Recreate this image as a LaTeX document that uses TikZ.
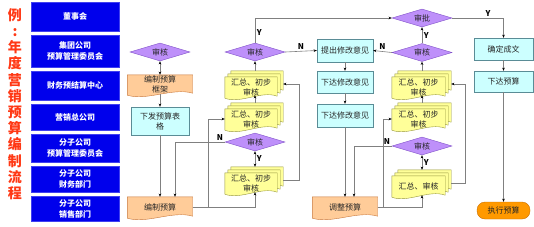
\documentclass[tikz,border=0pt]{standalone}
\usepackage{fontspec}
\setmainfont{Noto Sans CJK SC}
\usepackage{tikz}
\usetikzlibrary{arrows.meta,shapes.geometric,calc,backgrounds}
\definecolor{laneblue}{RGB}{0,0,236}
\definecolor{titlered}{RGB}{255,56,20}
\definecolor{chkfill}{RGB}{190,144,250}
\definecolor{chkline}{RGB}{128,80,200}
\definecolor{cyanfill}{RGB}{204,255,255}
\definecolor{cyanline}{RGB}{90,140,150}
\definecolor{orfill}{RGB}{255,204,153}
\definecolor{orline}{RGB}{200,120,60}
\definecolor{yefill}{RGB}{255,255,153}
\definecolor{yeline}{RGB}{150,150,60}
\definecolor{execfill}{RGB}{255,153,0}
\definecolor{execline}{RGB}{200,110,0}
\definecolor{linegray}{RGB}{128,128,128}
\newcommand{\flowfont}{\fontsize{8}{10}\selectfont}
% wavy-bottom outline round a node, shifted by (#3,#4)
\newcommand{\docpath}[4]{%
  \begin{pgfonlayer}{background}
  \draw[#2] ($(#1.north west)+(#3,#4)$) -- ($(#1.north east)+(#3,#4)$)
    -- ($(#1.south east)+(#3,#4-1)$)
    .. controls ($(#1.south east)!0.3!(#1.south west)+(#3,#4-7)$)
    and ($(#1.south east)!0.7!(#1.south west)+(#3,#4+7)$)
    .. ($(#1.south west)+(#3,#4+1)$) -- cycle;
  \end{pgfonlayer}}
\newcommand{\stackdoc}[1]{%
  \docpath{#1}{yedoc}{6}{-6}\docpath{#1}{yedoc}{3}{-3}\docpath{#1}{yedoc}{0}{0}}
\tikzset{
  lane/.style     = {fill=laneblue, draw=laneblue!75!white, text=white,
                     font=\bfseries\fontsize{8}{11}\selectfont, align=center,
                     minimum width=88pt, inner sep=0pt},
  ttl/.style      = {text=titlered, font=\bfseries\fontsize{14}{16.2}\selectfont,
                     align=center, inner sep=0pt},
  check/.style    = {diamond, aspect=3.3, fill=chkfill, draw=chkline, thin,
                     minimum width=60pt, minimum height=18pt, inner sep=0pt,
                     font=\flowfont, text=black!85},
  flowbox/.style  = {fill=cyanfill, draw=cyanline, thin, font=\flowfont,
                     text=black!85, align=center, inner sep=0pt},
  docnode/.style  = {font=\flowfont, text=black!85, align=center, inner sep=0pt},
  ordoc/.style    = {fill=orfill, draw=orline, thin},
  yedoc/.style    = {fill=yefill, draw=yeline, thin},
  execbox/.style  = {fill=execfill, draw=execline, thin, rounded corners=8pt,
                     font=\flowfont, text=black!85, inner sep=0pt},
  arr/.style      = {-{Stealth[length=3.2pt,width=2.6pt,color=black]},
                     draw=linegray, line width=0.6pt},
  both/.style     = {{Stealth[length=3.2pt,width=2.6pt,color=black]}-{Stealth[length=3.2pt,width=2.6pt,color=black]},
                     draw=linegray, line width=0.6pt},
  yn/.style       = {font=\bfseries\fontsize{8}{8}\selectfont, inner sep=1.5pt}
}
\begin{document}
\begin{tikzpicture}[x=1pt,y=-1pt]
  \useasboundingbox (0,0) rectangle (534,226);
  % title and lanes
  \node[ttl] (title) at (15,104) {例\\:\\年\\度\\营\\销\\预\\算\\编\\制\\流\\程};
  \node[lane, minimum height=29pt] (l1) at (75,16.5)  {董事会};
  \node[lane, minimum height=32pt] (l2) at (75,51)    {集团公司\\预算管理委员会};
  \node[lane, minimum height=29pt] (l3) at (75,85.5)  {财务预结算中心};
  \node[lane, minimum height=26pt] (l4) at (75,117)   {营销总公司};
  \node[lane, minimum height=28pt] (l5) at (75,148)   {分子公司\\预算管理委员会};
  \node[lane, minimum height=26pt] (l6) at (75,179)   {分子公司\\财务部门};
  \node[lane, minimum height=25pt] (l7) at (75,208.5) {分子公司\\销售部门};

  % column A
  \node[check] (dA1) at (160,52) {审核};
  \node[docnode, minimum width=65pt, minimum height=19pt] (docA1) at (160,84.5) {编制预算\\框架};
  \docpath{docA1}{ordoc}{0}{0}
  \node[flowbox, minimum width=58pt, minimum height=28pt] (boxA) at (160,121) {下发预算表\\格};
  \node[docnode, minimum width=65pt, minimum height=20pt] (docA2) at (160,207) {编制预算};
  \docpath{docA2}{ordoc}{0}{0}

  % column B
  \node[check] (dB1) at (255,52) {审核};
  \node[docnode, minimum width=52pt, minimum height=20pt] (stB1) at (251,87) {汇总、初步\\审核};
  \stackdoc{stB1}
  \node[docnode, minimum width=52pt, minimum height=20pt] (stB2) at (251,119) {汇总、初步\\审核};
  \stackdoc{stB2}
  \node[check] (dB2) at (255,142) {审核};
  \node[docnode, minimum width=52pt, minimum height=20pt] (stB3) at (251,183) {汇总、初步\\审核};
  \stackdoc{stB3}

  % column C
  \node[flowbox, minimum width=56pt, minimum height=23pt] (cC1) at (345,50.5)  {提出修改意见};
  \node[flowbox, minimum width=56pt, minimum height=22pt] (cC2) at (345,82)    {下达修改意见};
  \node[flowbox, minimum width=56pt, minimum height=23pt] (cC3) at (345,115.5) {下达修改意见};
  \node[docnode, minimum width=65pt, minimum height=20pt] (docC) at (345,207) {调整预算};
  \docpath{docC}{ordoc}{0}{0}

  % column D
  \node[check] (dD0) at (422,18) {审批};
  \node[check] (dD1) at (422,52.5) {审核};
  \node[docnode, minimum width=53pt, minimum height=20pt] (stD1) at (418.5,87) {汇总、初步\\审核};
  \stackdoc{stD1}
  \node[docnode, minimum width=53pt, minimum height=20pt] (stD2) at (418.5,119) {汇总、初步\\审核};
  \stackdoc{stD2}
  \node[check] (dD2) at (422,146) {审核};
  \node[docnode, minimum width=53pt, minimum height=20pt] (stD3) at (418.5,186) {汇总、审核};
  \stackdoc{stD3}

  % column E
  \node[flowbox, minimum width=59pt, minimum height=22pt] (cE1) at (503.5,49)   {确定成文};
  \node[flowbox, minimum width=59pt, minimum height=21pt] (cE2) at (503.5,81.5) {下达预算};
  \node[execbox, minimum width=53pt, minimum height=17pt] (exec) at (503.5,210.5) {执行预算};

  % connectors A
  \draw[both] (dA1.south) -- (docA1.north);
  \draw[arr] (docA1.south) -- (boxA.north);
  \draw[arr] (boxA.south) -- (docA2.north);
  \draw[arr] (dB2.west) node[yn, above left] (nB2) {N} -| ($(docA2.north)+(15,0)$);
  \draw[arr] (docA2.east) -- ++(16,0) |- (stB2.west);
  \draw[arr] (docA2.east) -| ($(dB2.south |- stB3.south)+(0,-1)$);

  % connectors B
  \draw[both] (dB2.south) -- node[yn, right] (yB2) {Y} ($(dB2.south |- stB3.north)+(0,-6)$);
  \draw[arr] ($(stB3.east)+(6,-3)$) -- ++(16,0) |- ($(stB1.east)+(6,-3)$);
  \draw[arr] ($(dB1.south |- stB2.north)+(0,-6)$) -- ($(dB1.south |- stB1.south)+(0,-2)$);
  \draw[arr] ($(dB1.south |- stB1.north)+(0,-6)$) -- (dB1.south);
  \draw[arr] (dB1.north) |- node[yn, right, pos=0.2] (yB1) {Y} (dD0.west);
  \draw[arr] (dB1.east) -- node[yn, above] (nB1) {N} (cC1.west);

  % connectors C
  \draw[arr] (dD1.west) -- node[yn, above] (nD1) {N} (cC1.east);
  \draw[arr] (cC1.south) -- (cC2.north);
  \draw[arr] (cC2.south) -- (cC3.north);
  \draw[arr] (cC3.south) -- (docC.north);
  \draw[arr] (dD2.west) node[yn, above left] (nD2) {N} -| ($(docC.north)+(9,0)$);
  \draw[arr] (docC.east) -- ++(6,0) |- (stD2.west);
  \draw[arr] (docC.east) -| ($(dD2.south |- stD3.south)+(0,-1)$);

  % connectors D
  \draw[both] (dD2.south) -- node[yn, right] (yD2) {Y} ($(dD2.south |- stD3.north)+(0,-6)$);
  \draw[arr] ($(stD3.east)+(6,-3)$) -- ++(14,0) |- ($(stD1.east)+(6,-3)$);
  \draw[arr] ($(dD1.south |- stD2.north)+(0,-6)$) -- ($(dD1.south |- stD1.south)+(0,-2)$);
  \draw[arr] ($(dD1.south |- stD1.north)+(0,-6)$) -- (dD1.south);
  \draw[arr] (dD1.north) -- node[yn, right] (yD1) {Y} (dD0.south);
  \draw[arr] (dD0.east) -| node[yn, above, pos=0.35] (yD0) {Y} (cE1.north);

  % connectors E
  \draw[arr] (cE1.south) -- (cE2.north);
  \draw[arr] (cE2.south) -- (exec.north);
\end{tikzpicture}
\end{document}
